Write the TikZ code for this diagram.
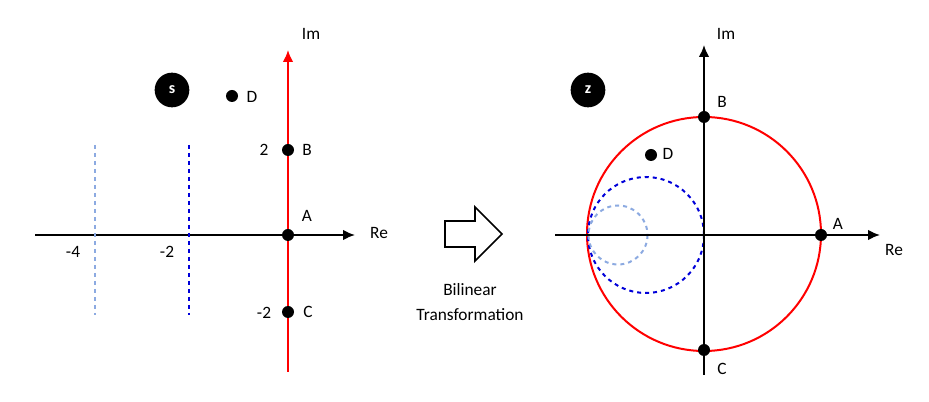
\documentclass[tikz,border=0pt]{standalone}
\usepackage{fontspec}
\setmainfont{Carlito}
\usetikzlibrary{arrows.meta}
\begin{document}
\begin{tikzpicture}[x=0.75pt,y=-0.75pt,
  lbl/.style={font=\fontsize{13}{15}\selectfont,inner sep=0pt},
  dot/.style={circle,fill=black,inner sep=0pt,minimum size=9pt},
  axis/.style={line width=1.5pt,-{Latex[length=9pt,width=8pt]}},
  badge/.style={circle,fill=black,text=white,minimum size=26pt,inner sep=0pt,font=\bfseries\fontsize{12}{14}\selectfont}]
\useasboundingbox (0,0) rectangle (929,402);
% left plane
\coordinate (l1) at (35,235); \coordinate (l2) at (355,235);
\coordinate (v1) at (288,372); \coordinate (v2) at (288,50);
\draw[axis] (l1) -- (l2);
\draw[axis,red] (v1) -- (v2);
\node[lbl] (im1) at (311,34) {Im};
\node[lbl] (re1) at (379,233) {Re};
\node[dot] (A) at (288,235) {}; \node[lbl] (Al) at (307,216) {A};
\node[dot] (B) at (288,150) {}; \node[lbl] (Bl) at (307,150) {B}; \node[lbl] (b2) at (264,150) {2};
\node[dot] (C) at (288,312) {}; \node[lbl] (Cl) at (308,312) {C}; \node[lbl] (c2) at (264,313) {-2};
\node[dot] (D) at (232,96) {}; \node[lbl] (Dl) at (252,97) {D};
\node[badge] (s) at (172,90) {s};
\coordinate (p1) at (95,145); \coordinate (p2) at (95,315);
\coordinate (q1) at (189,145); \coordinate (q2) at (189,315);
\draw[line width=1.5pt,dashed,color={rgb,255:red,140;green,170;blue,225}] (p1) -- (p2);
\draw[line width=1.5pt,dashed,blue!85!black] (q1) -- (q2);
\node[lbl] (m4) at (73,252) {-4};
\node[lbl] (m2) at (167,252) {-2};
% hollow arrow
\draw[line width=1.3pt] (445,221) -- (475,221) -- (475,207) -- (502,234) -- (475,261) -- (475,247) -- (445,247) -- cycle;
\node[lbl,align=center] (bt) at (470,302) {Bilinear\\[4pt]Transformation};
% right plane
\draw[line width=1.5pt,red] (704,234) circle (117);
\draw[line width=1.5pt,dashed,blue!85!black] (646,235) circle (58);
\draw[line width=1.5pt,dashed,color={rgb,255:red,140;green,170;blue,225}] (618,235) circle (29.5);
\coordinate (r1) at (555,235); \coordinate (r2) at (880,235);
\coordinate (w1) at (704,375); \coordinate (w2) at (704,45);
\draw[axis] (r1) -- (r2);
\draw[axis] (w1) -- (w2);
\node[lbl] (im2) at (726,34) {Im};
\node[lbl] (re2) at (894,250) {Re};
\node[dot] (A2) at (821,235) {}; \node[lbl] (A2l) at (838,224) {A};
\node[dot] (B2) at (704,117) {}; \node[lbl] (B2l) at (722,102) {B};
\node[dot] (C2) at (704,350) {}; \node[lbl] (C2l) at (722,369) {C};
\node[dot] (D2) at (651,155) {}; \node[lbl] (D2l) at (668,154) {D};
\node[badge] (z) at (588,90) {z};
\end{tikzpicture}
\end{document}
